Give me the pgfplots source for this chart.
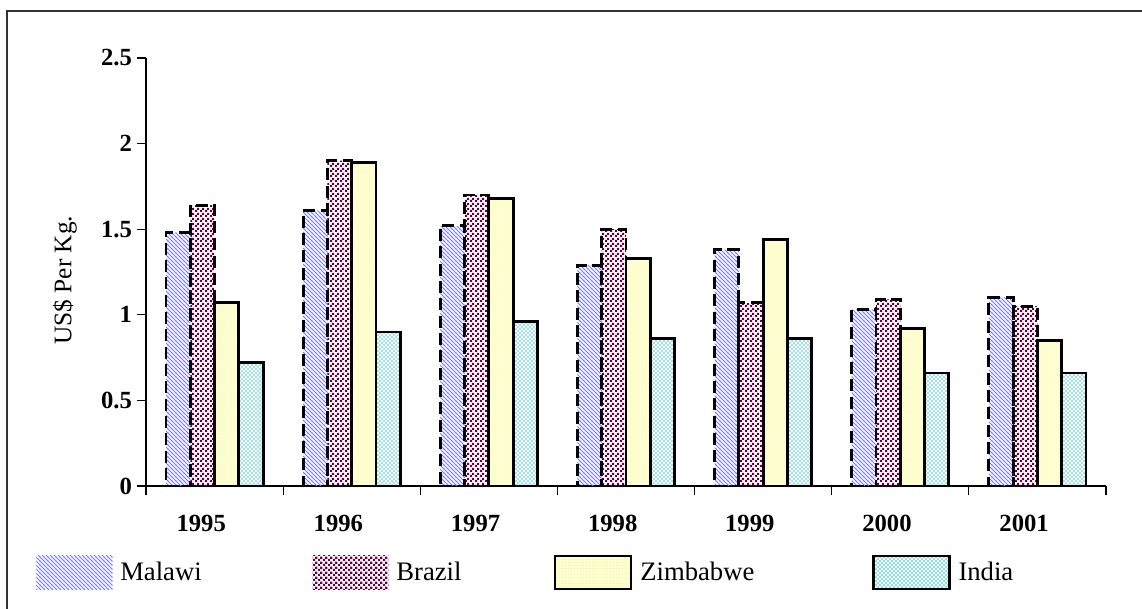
\documentclass[border=0pt]{standalone}
\usepackage{pgfplots}
\pgfplotsset{compat=1.18}
\usepackage{pgfplotstable}
\usetikzlibrary{patterns}
\usepackage{fontspec}
\setmainfont{Liberation Serif}

\definecolor{malawi}{RGB}{120,120,255}
\definecolor{brazil}{RGB}{105,0,65}
\definecolor{zimfill}{RGB}{255,255,212}
\definecolor{zimgrid}{RGB}{245,240,160}
\definecolor{india}{RGB}{150,220,225}

\pgfdeclarepatternformonly{mystripes}{\pgfqpoint{-1pt}{-1pt}}{\pgfqpoint{4pt}{4pt}}{\pgfqpoint{3pt}{3pt}}{%
  \pgfsetlinewidth{0.65pt}%
  \pgfpathmoveto{\pgfqpoint{-0.5pt}{3.5pt}}\pgfpathlineto{\pgfqpoint{3.5pt}{-0.5pt}}%
  \pgfusepath{stroke}}
\pgfdeclarepatternformonly{mychecker}{\pgfqpoint{0pt}{0pt}}{\pgfqpoint{3.4pt}{3.4pt}}{\pgfqpoint{3.4pt}{3.4pt}}{%
  \pgfpathrectangle{\pgfqpoint{0pt}{0pt}}{\pgfqpoint{1.8pt}{1.8pt}}%
  \pgfpathrectangle{\pgfqpoint{1.7pt}{1.7pt}}{\pgfqpoint{1.8pt}{1.8pt}}%
  \pgfusepath{fill}}
\pgfdeclarepatternformonly{mygrid}{\pgfqpoint{0pt}{0pt}}{\pgfqpoint{2.5pt}{2.5pt}}{\pgfqpoint{2.5pt}{2.5pt}}{%
  \pgfsetlinewidth{0.35pt}%
  \pgfpathmoveto{\pgfqpoint{0pt}{0pt}}\pgfpathlineto{\pgfqpoint{2.5pt}{0pt}}%
  \pgfpathmoveto{\pgfqpoint{0pt}{0pt}}\pgfpathlineto{\pgfqpoint{0pt}{2.5pt}}%
  \pgfusepath{stroke}}
\pgfdeclarepatternformonly{mycross}{\pgfqpoint{-1pt}{-1pt}}{\pgfqpoint{4pt}{4pt}}{\pgfqpoint{3pt}{3pt}}{%
  \pgfsetlinewidth{0.45pt}%
  \pgfpathmoveto{\pgfqpoint{0pt}{0pt}}\pgfpathlineto{\pgfqpoint{3.1pt}{3.1pt}}%
  \pgfpathmoveto{\pgfqpoint{0pt}{3pt}}\pgfpathlineto{\pgfqpoint{3.1pt}{-0.1pt}}%
  \pgfusepath{stroke}}

\pgfplotstableread{
x malawi brazil zimbabwe india
0 1.48 1.64 1.07 0.72
1 1.61 1.90 1.89 0.90
2 1.52 1.70 1.68 0.96
3 1.29 1.50 1.33 0.86
4 1.38 1.07 1.44 0.86
5 1.03 1.09 0.92 0.66
6 1.10 1.05 0.85 0.66
}\datatable

\begin{document}
\begin{tikzpicture}
\useasboundingbox (-109.5pt,-92.25pt) rectangle (747pt,364.5pt);
\draw[line width=1.1pt, black!80] (-104.25pt,-95pt) -- (-104.25pt,356.25pt) -- (750pt,356.25pt);
\begin{axis}[
  at={(0,0)}, anchor=south west,
  scale only axis, width=720pt, height=321pt,
  xmin=-0.5, xmax=6.5, ymin=0, ymax=2.5,
  enlargelimits=false,
  axis lines=left,
  axis line style={-, line width=1pt, black},
  ybar=0pt, bar width=18.2pt,
  xtick={-0.5,0.5,...,6.5},
  x tick label as interval,
  xticklabels={1995,1996,1997,1998,1999,2000,2001},
  ytick={0,0.5,1,1.5,2,2.5},
  tick align=outside,
  major tick length=7pt,
  tick style={line width=0.9pt, black},
  /pgf/number format/assume math mode=true,
  xticklabel style={font=\bfseries\fontsize{18.5}{20}\selectfont, xshift=-10pt, yshift=-11pt},
  yticklabel style={font=\bfseries\fontsize{18.5}{20}\selectfont},
  ylabel={US\$ Per Kg.},
  ylabel style={font=\fontsize{19}{21}\selectfont, at={(axis description cs:-0.0844,0.481)}, anchor=center},
  legend columns=4,
  legend style={at={(rel axis cs:-0.1146,-0.2021)}, anchor=west, draw=none, fill=none,
    inner sep=0pt, row sep=0pt,
    nodes={inner sep=0pt, anchor=west},
    font=\fontsize{20}{24}\selectfont,
    /tikz/every odd column/.append style={column sep=6pt},
    /tikz/column 2/.style={column sep=83pt},
    /tikz/column 4/.style={column sep=69pt},
    /tikz/column 6/.style={column sep=88pt}},
]
\addplot[draw=black, line width=2.1pt, dash pattern=on 9pt off 4pt, pattern=mystripes, pattern color=malawi,
  legend image code/.code={\path[draw=none, solid, pattern=mystripes, pattern color=malawi] (0pt,-12.4pt) rectangle (57pt,12.4pt);}]
  table[x=x, y=malawi] {\datatable};
\addlegendentry{Malawi}
\addplot[draw=black, line width=2.1pt, dash pattern=on 9pt off 4pt, pattern=mychecker, pattern color=brazil,
  legend image code/.code={\path[draw=none, solid, pattern=mychecker, pattern color=brazil] (0pt,-12.4pt) rectangle (57pt,12.4pt);}]
  table[x=x, y=brazil] {\datatable};
\addlegendentry{Brazil}
\addplot[draw=black, line width=2.1pt, fill=zimfill, postaction={pattern=mygrid, pattern color=zimgrid},
  legend image code/.code={\draw[line width=2.1pt, fill=zimfill, postaction={pattern=mygrid, pattern color=zimgrid}] (0pt,-12.4pt) rectangle (57pt,12.4pt);}]
  table[x=x, y=zimbabwe] {\datatable};
\addlegendentry{Zimbabwe}
\addplot[draw=black, line width=2.1pt, fill=white, postaction={pattern=mycross, pattern color=india},
  legend image code/.code={\draw[line width=2.1pt, fill=white, postaction={pattern=mycross, pattern color=india}] (0pt,-12.4pt) rectangle (57pt,12.4pt);}]
  table[x=x, y=india] {\datatable};
\addlegendentry{India}
\end{axis}
\end{tikzpicture}
\end{document}
